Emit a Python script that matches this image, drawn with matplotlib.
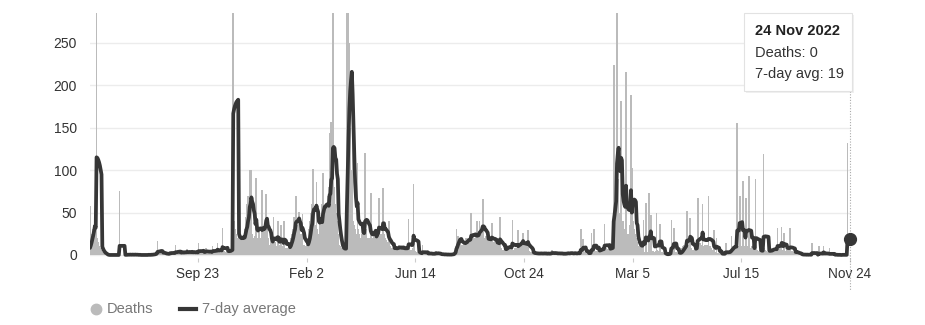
import numpy as np
import pandas as pd
import matplotlib
matplotlib.use('Agg')
import matplotlib.pyplot as plt
import matplotlib.dates as mdates
from matplotlib.lines import Line2D
from matplotlib.patches import FancyBboxPatch

plt.rcParams['font.family'] = ['Liberation Sans', 'DejaVu Sans']

# ---------------- data ----------------
start_date = '2020-05-15'
deaths = [
    58, 20, 25, 30, 30, 35, 40,
    45, 600, 20, 15, 10, 8, 5,
    6, 4, 2, 1, 0, 0, 0,
    0, 0, 0, 0, 0, 0, 0,
    0, 0, 0, 0, 0, 0, 0,
    0, 75, 0, 0, 0, 0, 0,
    0, 1, 0, 0, 1, 0, 0,
    1, 0, 0, 1, 0, 0, 1,
    0, 0, 0, 0, 0, 0, 0,
    0, 0, 0, 0, 0, 0, 0,
    0, 1, 0, 0, 0, 1, 0,
    1, 2, 1, 2, 3, 16, 2,
    3, 2, 4, 3, 2, 3, 2,
    1, 0, 1, 2, 1, 2, 5,
    2, 3, 1, 2, 1, 2, 12,
    2, 3, 4, 2, 3, 2, 3,
    5, 3, 2, 4, 3, 2, 7,
    3, 2, 4, 3, 2, 5, 3,
    4, 3, 2, 3, 4, 2, 14,
    3, 4, 2, 3, 5, 4, 3,
    4, 8, 3, 2, 4, 3, 4,
    3, 5, 10, 4, 3, 4, 5,
    4, 14, 3, 4, 5, 4, 3,
    32, 4, 5, 3, 4, 6, 5,
    5, 3, 6, 4, 8, 10, 1130,
    40, 30, 25, 20, 15, 20, 25,
    15, 25, 18, 22, 20, 15, 30,
    45, 60, 40, 70, 50, 100, 55,
    100, 25, 20, 18, 22, 15, 91,
    20, 15, 30, 25, 20, 18, 77,
    25, 30, 20, 40, 72, 35, 20,
    15, 10, 12, 18, 20, 15, 45,
    12, 15, 10, 10, 40, 12, 10,
    12, 35, 8, 10, 12, 40, 8,
    5, 8, 6, 10, 12, 15, 20,
    25, 30, 35, 45, 40, 70, 30,
    30, 35, 51, 20, 25, 15, 48,
    10, 12, 8, 10, 12, 15, 20,
    30, 40, 50, 60, 45, 101, 50,
    35, 30, 86, 30, 25, 20, 40,
    45, 50, 60, 97, 55, 50, 40,
    60, 50, 70, 80, 144, 60, 157,
    70, 300, 80, 70, 60, 50, 40,
    25, 15, 12, 10, 8, 8, 6,
    5, 5, 10, 10, 350, 300, 280,
    250, 150, 100, 80, 165, 40, 35,
    30, 25, 25, 108, 30, 25, 20,
    20, 25, 30, 35, 25, 120, 30,
    25, 20, 15, 20, 15, 73, 12,
    15, 20, 25, 25, 30, 25, 30,
    25, 67, 20, 25, 25, 20, 79,
    25, 20, 20, 18, 15, 12, 40,
    8, 10, 8, 6, 8, 10, 6,
    8, 10, 6, 8, 12, 10, 8,
    8, 6, 10, 8, 6, 8, 10,
    6, 8, 42, 8, 6, 5, 6,
    8, 84, 10, 5, 4, 3, 2,
    2, 1, 3, 2, 1, 12, 2,
    1, 2, 1, 3, 2, 1, 2,
    1, 2, 1, 1, 2, 1, 2,
    5, 1, 1, 2, 1, 0, 1,
    1, 0, 1, 1, 0, 1, 0,
    0, 1, 0, 1, 0, 1, 1,
    1, 2, 5, 10, 30, 15, 22,
    18, 20, 15, 12, 10, 12, 15,
    15, 18, 20, 15, 20, 18, 16,
    20, 50, 18, 22, 20, 18, 22,
    18, 40, 20, 25, 40, 25, 30,
    30, 66, 20, 18, 20, 22, 18,
    20, 15, 18, 20, 15, 38, 15,
    15, 12, 18, 15, 12, 15, 14,
    10, 45, 8, 6, 5, 5, 6,
    8, 10, 8, 12, 10, 8, 10,
    6, 8, 41, 6, 5, 8, 6,
    8, 10, 29, 12, 10, 12, 14,
    12, 26, 10, 12, 10, 8, 12,
    29, 5, 4, 3, 3, 2, 2,
    2, 1, 2, 3, 1, 2, 1,
    2, 1, 3, 2, 1, 2, 2,
    1, 2, 1, 2, 2, 1, 2,
    2, 6, 1, 2, 1, 2, 1,
    2, 4, 1, 2, 1, 1, 2,
    1, 2, 2, 1, 2, 1, 4,
    2, 1, 2, 3, 2, 1, 2,
    2, 3, 1, 2, 2, 3, 1,
    2, 30, 3, 2, 19, 3, 2,
    3, 2, 1, 0, 4, 3, 3,
    26, 4, 5, 30, 5, 4, 3,
    5, 6, 8, 5, 7, 6, 8,
    6, 8, 37, 6, 8, 7, 6,
    8, 10, 6, 8, 10, 10, 224,
    60, 70, 60, 320, 90, 60, 50,
    40, 181, 40, 40, 35, 30, 30,
    215, 20, 25, 20, 30, 35, 189,
    30, 103, 40, 30, 25, 20, 15,
    12, 10, 10, 8, 10, 12, 14,
    41, 3, 4, 61, 3, 4, 3,
    73, 4, 47, 3, 4, 5, 3,
    4, 5, 50, 6, 5, 4, 37,
    5, 4, 3, 2, 1, 0, 0,
    0, 1, 2, 3, 2, 4, 41,
    5, 4, 32, 5, 4, 3, 2,
    2, 1, 2, 3, 5, 8, 10,
    12, 10, 14, 12, 52, 10, 12,
    8, 43, 8, 6, 5, 6, 8,
    8, 10, 12, 67, 10, 12, 14,
    10, 12, 60, 10, 8, 12, 10,
    12, 10, 70, 8, 10, 8, 6,
    5, 4, 29, 3, 2, 20, 2,
    2, 1, 2, 1, 1, 2, 1,
    2, 1, 14, 1, 2, 1, 2,
    2, 5, 22, 8, 10, 8, 10,
    5, 5, 155, 10, 8, 70, 10,
    10, 8, 87, 10, 8, 10, 67,
    8, 10, 93, 8, 6, 8, 10,
    8, 6, 10, 89, 8, 6, 5,
    5, 4, 6, 5, 4, 6, 119,
    8, 6, 5, 4, 3, 4, 5,
    6, 8, 5, 7, 8, 6, 7,
    8, 6, 32, 7, 6, 8, 7,
    33, 6, 5, 26, 4, 5, 6,
    5, 6, 4, 32, 5, 4, 5,
    3, 2, 3, 2, 8, 1, 1,
    1, 0, 1, 0, 1, 0, 0,
    1, 0, 0, 1, 0, 0, 1,
    0, 0, 14, 0, 1, 0, 0,
    0, 1, 0, 10, 0, 0, 1,
    0, 0, 11, 0, 0, 1, 0,
    0, 0, 8, 0, 0, 1, 0,
    0, 0, 1, 0, 0, 0, 0,
    0, 0, 0, 0, 1, 0, 0,
    0, 0, 0, 132, 0, 0, 0,
]
tick_dates = ['2020-09-23', '2021-02-02', '2021-06-14', '2021-10-24',
              '2022-03-05', '2022-07-15', '2022-11-24']
tick_labels = ['Sep 23', 'Feb 2', 'Jun 14', 'Oct 24', 'Mar 5', 'Jul 15', 'Nov 24']
y_ticks = [0, 50, 100, 150, 200, 250]
y_max = 285
legend_labels = ['Deaths', '7-day average']
tooltip_title = '24 Nov 2022'

# ---------------- derived ----------------
dates = pd.date_range(start_date, periods=len(deaths), freq='D')
series = pd.Series(deaths, index=dates, dtype=float)
avg7 = series.rolling(7, min_periods=1).sum() / 7.0

bar_color = '#bbbbbb'
line_color = '#363636'
text_color = '#333333'

W, H = 925, 325
fig = plt.figure(figsize=(W / 100, H / 100), dpi=100)
ax_left, ax_right, ax_top, ax_bottom = 89.5, 850.5, 13.0, 257.5
ax = fig.add_axes([ax_left / W, 1 - ax_bottom / H,
                   (ax_right - ax_left) / W, (ax_bottom - ax_top) / H])

ax.bar(dates, series.values, width=2.0, color=bar_color, linewidth=0, zorder=2)
ax.plot(dates, avg7.values, color=line_color, lw=2.7, solid_joinstyle='round',
        solid_capstyle='round', zorder=3)

last_x = dates[-1]
ax.plot([last_x], [avg7.values[-1]], 'o', ms=8.5, color=line_color, zorder=5,
        clip_on=False)

pad = pd.Timedelta(hours=14)
ax.set_xlim(dates[0] - pad, dates[-1] + pad)
ax.set_ylim(-3, y_max)

ax.set_yticks(y_ticks)
ax.set_yticklabels([str(v) for v in y_ticks])
ax.set_xticks(pd.to_datetime(tick_dates))
ax.set_xticklabels(tick_labels)
ax.grid(axis='y', color='#ececec', lw=1.0, zorder=0)
ax.set_axisbelow(True)
for sp in ax.spines.values():
    sp.set_visible(False)
ax.tick_params(axis='y', length=0, pad=9, labelsize=10, labelcolor=text_color)
ax.tick_params(axis='x', length=3, width=0.8, color='#cccccc', pad=4,
               labelsize=9.8, labelcolor=text_color)

# dotted hover line
xt = ax.get_xaxis_transform()
y_top_frac = (ax_bottom - 91) / (ax_bottom - ax_top)
y_bot_frac = (ax_bottom - 290) / (ax_bottom - ax_top)
ax.plot([last_x, last_x], [y_top_frac, y_bot_frac], transform=xt,
        color='#aaaaaa', lw=0.8, ls=(0, (1, 1.5)), clip_on=False, zorder=1)

# tooltip
def fx(px):
    return px / W

def fy(py):
    return 1 - py / H

shadow = FancyBboxPatch((fx(746), fy(93)), fx(108), 78 / H,
                        boxstyle='square,pad=0', transform=fig.transFigure,
                        facecolor='#000000', alpha=0.06, edgecolor='none', zorder=8)
fig.add_artist(shadow)
box = FancyBboxPatch((fx(744), fy(91)), fx(108), 78 / H,
                     boxstyle='square,pad=0', transform=fig.transFigure,
                     facecolor='white', edgecolor='#e2e2e2', lw=0.8, zorder=9)
fig.add_artist(box)
fig.text(fx(755), fy(31), tooltip_title, fontsize=10.5, fontweight='bold',
         color='#222222', va='center', ha='left', zorder=10)
fig.text(fx(755), fy(53), f'Deaths: {int(series.values[-1])}', fontsize=10.5,
         color=text_color, va='center', ha='left', zorder=10)
fig.text(fx(755), fy(74), f'7-day avg: {int(round(avg7.values[-1]))}', fontsize=10.5,
         color=text_color, va='center', ha='left', zorder=10)

# legend
leg_y = fy(309)
fig.add_artist(Line2D([fx(96)], [leg_y], marker='o', ms=7.5, color=bar_color,
                      transform=fig.transFigure, ls='none'))
fig.text(fx(107), leg_y, legend_labels[0], fontsize=10.5, color='#777777',
         va='center', ha='left')
fig.add_artist(Line2D([fx(180), fx(196)], [leg_y, leg_y], color=line_color, lw=3.0,
                      transform=fig.transFigure))
fig.text(fx(202), leg_y, legend_labels[1], fontsize=10.5, color='#777777',
         va='center', ha='left')

fig.savefig('out.png', dpi=100, facecolor='white')
